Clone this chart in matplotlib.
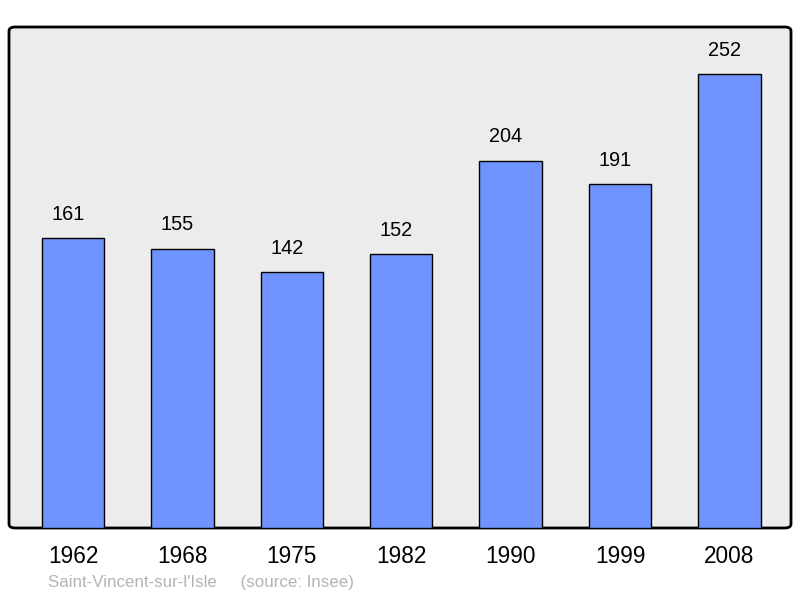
import matplotlib
matplotlib.use("Agg")
import matplotlib.pyplot as plt
from matplotlib.patches import FancyBboxPatch

plt.rcParams['font.family'] = ['Liberation Sans', 'DejaVu Sans']

years = ['1962', '1968', '1975', '1982', '1990', '1999', '2008']
population = [161, 155, 142, 152, 204, 191, 252]
commune = "Saint-Vincent-sur-l'Isle"
source = "(source: Insee)"

fig = plt.figure(figsize=(8, 5.98), dpi=100)
ax = fig.add_axes([9/800, 70/598, 782/800, 501/598])

x = range(len(years))
ax.bar(x, population, width=0.57, color='#7094ff', edgecolor='black', linewidth=1, zorder=3)
# value labels sit a little left of the bar centre in the original
for i, v in enumerate(population):
    ax.annotate(str(v), (i, v), xytext=(-3.6, 10.5), textcoords='offset points',
                ha='center', va='bottom', fontsize=14.3)

ax.set_xlim(-0.585, 6.563)
ax.set_ylim(0, 278.3)
ax.set_xticks(list(x))
ax.set_xticklabels(years, fontsize=16.3)
ax.tick_params(axis='x', length=0, pad=12.5)
ax.set_yticks([])
ax.set_facecolor('none')
for s in ax.spines.values():
    s.set_visible(False)

frame = FancyBboxPatch((0, 0), 1, 1, boxstyle='round,pad=0,rounding_size=0.008',
                       transform=ax.transAxes, facecolor='#ececec', edgecolor='black',
                       linewidth=2, zorder=0, clip_on=False)
ax.add_patch(frame)

fig.text(48/800, 1 - 583/598, commune + "     " + source, color='#b4b4b4',
         fontsize=12.2, va='center', ha='left')

fig.savefig('out.png', dpi=100)
